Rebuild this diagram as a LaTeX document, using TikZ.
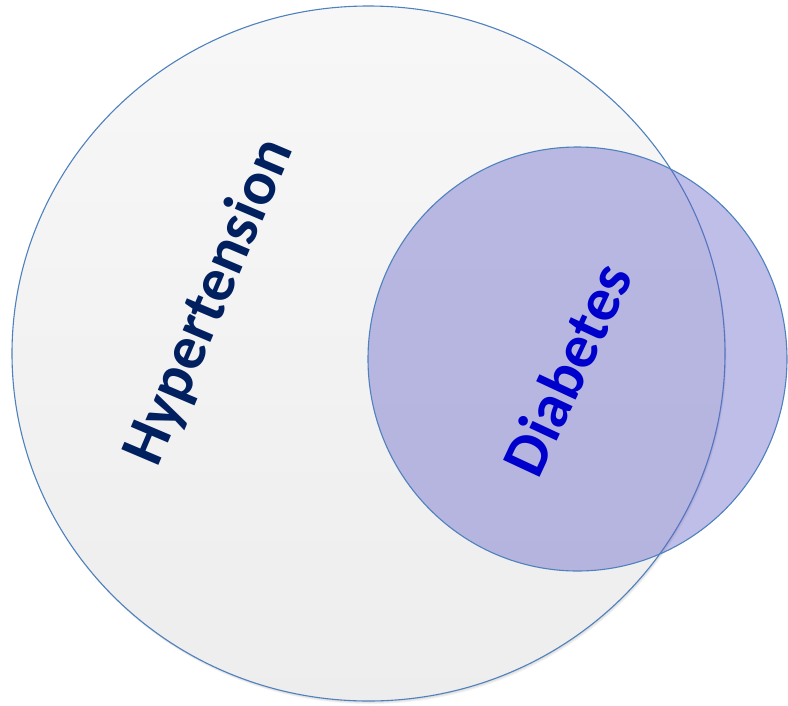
\documentclass[tikz,border=0pt]{standalone}
\usepackage{fontspec}
\setmainfont{Carlito}
\definecolor{edgeblue}{RGB}{79,129,189}
\definecolor{navy}{RGB}{0,32,96}
\definecolor{diabblue}{RGB}{0,0,204}
\definecolor{setfill}{RGB}{100,100,200}
\tikzset{
  setedge/.style={draw=edgeblue, line width=1.1pt},
  softshadow/.style={fill=black, opacity=0.05, draw=none},
  setlabel/.style={font=\bfseries\fontsize{62}{62}\selectfont, inner sep=0pt}
}
\begin{document}
\begin{tikzpicture}[x=1pt,y=-1pt]
\useasboundingbox (0,0) rectangle (788,705);
% shadows
\foreach \d in {1,2,3}{
  \fill[softshadow] (368.5+0.5*\d,353.5+\d) ellipse [x radius=356.5, y radius=347.5];
}
% big set
\shade[top color=white!97!black, bottom color=white!93!black, setedge]
  (368.5,353.5) ellipse [x radius=356.5, y radius=347.5];
\node[setlabel, text=navy, rotate=67] (hyp) at (210,302) {Hypertension};
% small set
\fill[setfill, fill opacity=0.42] (577.5,359) ellipse [x radius=209.5, y radius=212];
\draw[setedge] (577.5,359) ellipse [x radius=209.5, y radius=212];
\node[setlabel, text=diabblue, rotate=65] (dia) at (567,369) {Diabetes};
\end{tikzpicture}
\end{document}
